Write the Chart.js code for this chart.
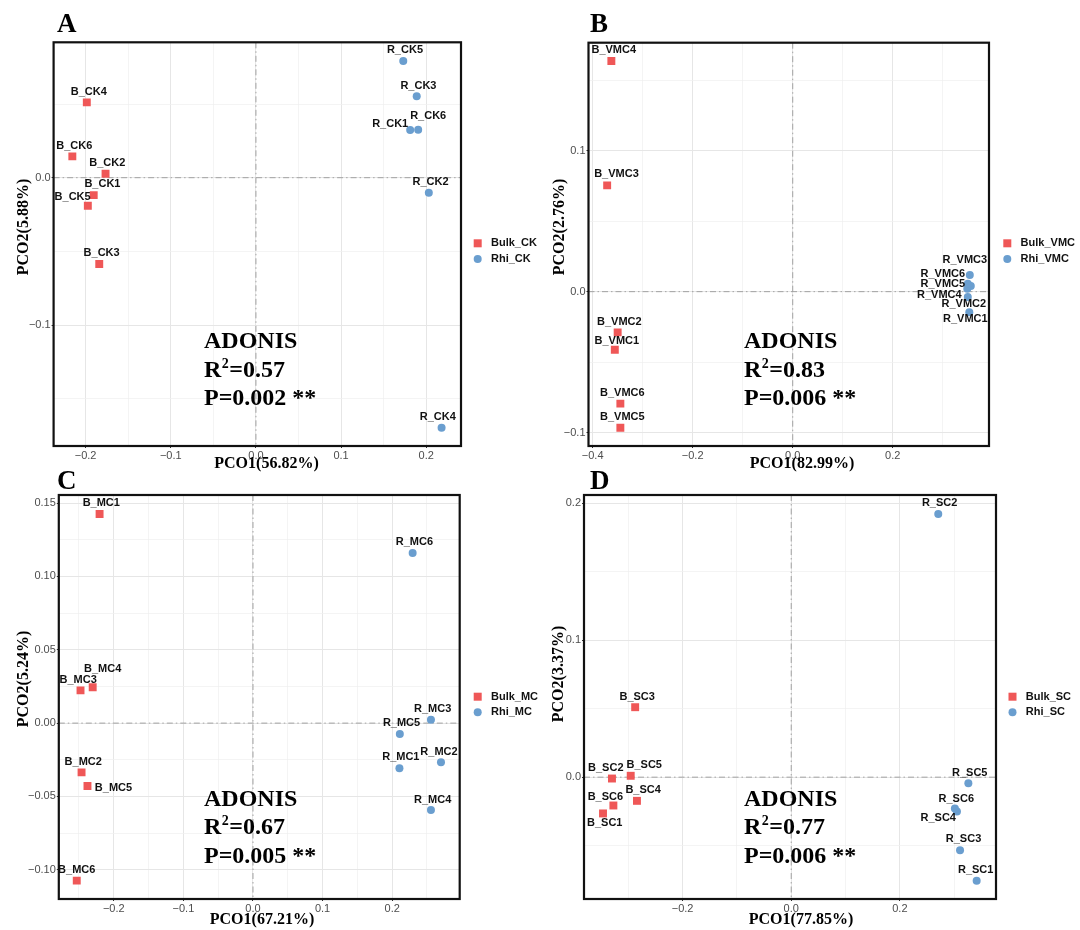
<!DOCTYPE html>
<html>
<head>
<meta charset="utf-8">
<script src="https://cdn.jsdelivr.net/npm/chart.js@4.4.1/dist/chart.umd.min.js"></script>
<style>
  body { margin: 0; background: #fff; width: 1080px; height: 930px; position: relative; overflow: hidden; }
  canvas { position: absolute; }
  #cA { left: 0; top: 0; }
  #cB { left: 540px; top: 0; }
  #cC { left: 0; top: 460px; }
  #cD { left: 540px; top: 460px; }
</style>
</head>
<body>
<canvas id="cA" width="540" height="478" style="width:540px;height:478px"></canvas>
<canvas id="cB" width="540" height="478" style="width:540px;height:478px"></canvas>
<canvas id="cC" width="540" height="470" style="width:540px;height:470px"></canvas>
<canvas id="cD" width="540" height="470" style="width:540px;height:470px"></canvas>
<script>
const RED = '#ef5757';
const BLUE = '#6a9ecf';

// ---- Panel A (CK) ----
const ckBulkNames = ['B_CK1', 'B_CK2', 'B_CK3', 'B_CK4', 'B_CK5', 'B_CK6'];
const ckBulkX = [-0.1905, -0.1766, -0.184, -0.1986, -0.1974, -0.2156];
const ckBulkY = [-0.0118, 0.0027, -0.0586, 0.0511, -0.019, 0.0145];
const ckRhiNames = ['R_CK1', 'R_CK2', 'R_CK3', 'R_CK4', 'R_CK5', 'R_CK6'];
const ckRhiX = [0.1811, 0.203, 0.1888, 0.218, 0.173, 0.1905];
const ckRhiY = [0.0324, -0.0102, 0.0552, -0.1697, 0.0792, 0.0326];
const ckXGrid = [-0.2, -0.15, -0.1, -0.05, 0, 0.05, 0.1, 0.15, 0.2];
const ckXMajor = [-0.2, -0.1, 0, 0.1, 0.2];
const ckXLabels = ['\u22120.2', '\u22120.1', '0.0', '0.1', '0.2'];
const ckYGrid = [0.05, 0, -0.05, -0.1, -0.15];
const ckYMajor = [0, -0.1];
const ckYLabels = ['0.0', '\u22120.1'];

// ---- Panel B (VMC) ----
const vmcBulkNames = ['B_VMC1', 'B_VMC2', 'B_VMC3', 'B_VMC4', 'B_VMC5', 'B_VMC6'];
const vmcBulkX = [-0.3557, -0.35, -0.371, -0.3626, -0.3446, -0.3446];
const vmcBulkY = [-0.0412, -0.0289, 0.0755, 0.1638, -0.0966, -0.0795];
const vmcRhiNames = ['R_VMC1', 'R_VMC2', 'R_VMC3', 'R_VMC4', 'R_VMC5', 'R_VMC6'];
const vmcRhiX = [0.353, 0.35, 0.354, 0.349, 0.356, 0.35];
const vmcRhiY = [-0.0147, -0.0038, 0.0118, 0.002, 0.004, 0.0057];
const vmcXGrid = [-0.4, -0.3, -0.2, -0.1, 0, 0.1, 0.2, 0.3];
const vmcXMajor = [-0.4, -0.2, 0, 0.2];
const vmcXLabels = ['\u22120.4', '\u22120.2', '0.0', '0.2'];
const vmcYGrid = [0.15, 0.1, 0.05, 0, -0.05, -0.1];
const vmcYMajor = [0.1, 0, -0.1];
const vmcYLabels = ['0.1', '0.0', '\u22120.1'];

// ---- Panel C (MC) ----
const mcBulkNames = ['B_MC1', 'B_MC2', 'B_MC3', 'B_MC4', 'B_MC5', 'B_MC6'];
const mcBulkX = [-0.2204, -0.2463, -0.2478, -0.2303, -0.2378, -0.2532];
const mcBulkY = [0.1426, -0.0336, 0.0223, 0.0245, -0.0429, -0.1074];
const mcRhiNames = ['R_MC1', 'R_MC2', 'R_MC3', 'R_MC4', 'R_MC5', 'R_MC6'];
const mcRhiX = [0.2104, 0.2701, 0.2557, 0.2557, 0.211, 0.2294];
const mcRhiY = [-0.0307, -0.0266, 0.0023, -0.0593, -0.0075, 0.116];
const mcXGrid = [-0.25, -0.2, -0.15, -0.1, -0.05, 0, 0.05, 0.1, 0.15, 0.2, 0.25];
const mcXMajor = [-0.2, -0.1, 0, 0.1, 0.2];
const mcXLabels = ['\u22120.2', '\u22120.1', '0.0', '0.1', '0.2'];
const mcYGrid = [0.15, 0.125, 0.1, 0.075, 0.05, 0.025, 0, -0.025, -0.05, -0.075, -0.1];
const mcYMajor = [0.15, 0.1, 0.05, 0, -0.05, -0.1];
const mcYLabels = ['0.15', '0.10', '0.05', '0.00', '\u22120.05', '\u22120.10'];

// ---- Panel D (SC) ----
const scBulkNames = ['B_SC1', 'B_SC2', 'B_SC3', 'B_SC4', 'B_SC5', 'B_SC6'];
const scBulkX = [-0.3465, -0.33, -0.2873, -0.284, -0.2955, -0.3274];
const scBulkY = [-0.0265, -0.001, 0.0511, -0.0173, 0.001, -0.0207];
const scRhiNames = ['R_SC1', 'R_SC2', 'R_SC3', 'R_SC4', 'R_SC5', 'R_SC6'];
const scRhiX = [0.3414, 0.2707, 0.3108, 0.3051, 0.3261, 0.3013];
const scRhiY = [-0.0757, 0.1922, -0.0533, -0.0251, -0.0044, -0.0229];
const scXGrid = [-0.3, -0.2, -0.1, 0, 0.1, 0.2, 0.3];
const scXMajor = [-0.2, 0, 0.2];
const scXLabels = ['\u22120.2', '0.0', '0.2'];
const scYGrid = [0.2, 0.15, 0.1, 0.05, 0, -0.05];
const scYMajor = [0.2, 0.1, 0];
const scYLabels = ['0.2', '0.1', '0.0'];

// label nudges (px) for the sample names, same order as the names
const ckBulkNudge = [[8.7, -11], [1.7, -10.7], [2.4, -10.7], [2, -10.3], [-15.2, -9], [2, -10.7]];
const ckRhiNudge = [[-20, -6], [1.7, -10.7], [1.7, -10.7], [-3.8, -10.7], [1.7, -11], [10, -13.7]];
const vmcBulkNudge = [[2, -8.7], [1.7, -10.7], [9.3, -11], [2.4, -10.7], [2, -10.7], [2, -10.7]];
const vmcRhiNudge = [[-4, 7], [-4, 7], [-5, -15], [-28, 6], [-28, -2], [-25, -10]];
const mcBulkNudge = [[1.7, -10.7], [1.7, -10.7], [-2.4, -10.3], [10, -18.3], [26, 1.7], [0, -10.3]];
const mcRhiNudge = [[1.4, -11], [-2, -10.3], [1.7, -10.7], [1.7, -10.3], [1.7, -10.7], [1.7, -11]];
const scBulkNudge = [[1.7, 9.7], [-6.2, -11], [2, -10.7], [6.2, -10.7], [13.5, -11.3], [-8, -9]];
const scRhiNudge = [[-1, -11], [1.4, -10.7], [3.5, -10.7], [-18.7, 6.7], [1.4, -10.7], [1.4, -10]];

const SANS = '"Liberation Sans", Arial, sans-serif';
const SERIF = '"Liberation Serif", "Times New Roman", serif';

function pick(majors, labels) {
  return v => {
    const i = majors.findIndex(m => Math.abs(m - v) < 1e-9);
    return i < 0 ? '' : labels[i];
  };
}
function isMajor(majors, v) {
  return majors.some(m => Math.abs(m - v) < 1e-9);
}

function makeDecor(p) {
  return {
    id: 'decor',
    beforeDatasetsDraw(chart) {
      const { ctx, chartArea: a, scales } = chart;
      const x0 = scales.x.getPixelForValue(0);
      const y0 = scales.y.getPixelForValue(0);
      ctx.save();
      ctx.strokeStyle = '#9a9a9a';
      ctx.lineWidth = 0.9;
      ctx.setLineDash([6, 3, 1.5, 3]);
      ctx.beginPath();
      ctx.moveTo(x0, a.top); ctx.lineTo(x0, a.bottom);
      ctx.moveTo(a.left, y0); ctx.lineTo(a.right, y0);
      ctx.stroke();
      ctx.restore();
    },
    afterDatasetsDraw(chart) {
      const { ctx, chartArea: a } = chart;
      ctx.save();
      ctx.font = 'bold 11px ' + SANS;
      ctx.fillStyle = '#111';
      ctx.textAlign = 'center';
      ctx.textBaseline = 'middle';
      chart.data.datasets.forEach((ds, di) => {
        chart.getDatasetMeta(di).data.forEach((pt, i) => {
          const n = ds.nudge[i];
          ctx.fillText(ds.names[i], pt.x + n[0], pt.y + n[1]);
        });
      });
      ctx.strokeStyle = '#111';
      ctx.lineWidth = 2.2;
      ctx.strokeRect(a.left, a.top, a.right - a.left, a.bottom - a.top);
      ctx.restore();
    },
    afterDraw(chart) {
      const ctx = chart.ctx;
      ctx.save();
      ctx.fillStyle = '#000';
      // panel letter
      ctx.font = 'bold 27px ' + SERIF;
      ctx.textAlign = 'left';
      ctx.textBaseline = 'alphabetic';
      ctx.fillText(p.letter, p.letterPos[0], p.letterPos[1]);
      // axis titles
      ctx.font = 'bold 16px ' + SERIF;
      ctx.textAlign = 'center';
      ctx.textBaseline = 'middle';
      ctx.fillText(p.xTitle, p.xTitlePos[0], p.xTitlePos[1]);
      ctx.save();
      ctx.translate(p.yTitlePos[0], p.yTitlePos[1]);
      ctx.rotate(-Math.PI / 2);
      ctx.fillText(p.yTitle, 0, 0);
      ctx.restore();
      // ADONIS block
      const [ax, b0, b1, b2] = p.adonisPos;
      ctx.textAlign = 'left';
      ctx.textBaseline = 'alphabetic';
      ctx.font = 'bold 24px ' + SERIF;
      ctx.fillText('ADONIS', ax, b0);
      ctx.fillText('R', ax, b1);
      const wR = ctx.measureText('R').width;
      ctx.font = 'bold 14px ' + SERIF;
      ctx.fillText('2', ax + wR + 0.5, b1 - 9);
      const w2 = ctx.measureText('2').width;
      ctx.font = 'bold 24px ' + SERIF;
      ctx.fillText('=' + p.r2, ax + wR + w2 + 1, b1);
      ctx.fillText('P=' + p.pval + ' **', ax, b2);
      // legend
      const [lx, ly1, ly2] = p.legendPos;
      ctx.fillStyle = RED;
      ctx.fillRect(lx - 4, ly1 - 4, 8, 8);
      ctx.fillStyle = BLUE;
      ctx.beginPath();
      ctx.arc(lx, ly2, 4, 0, Math.PI * 2);
      ctx.fill();
      ctx.fillStyle = '#111';
      ctx.font = 'bold 11px ' + SANS;
      ctx.textBaseline = 'middle';
      ctx.fillText(p.legend[0], lx + 13.3, ly1);
      ctx.fillText(p.legend[1], lx + 13.3, ly2);
      ctx.restore();
    }
  };
}

function axis(min, max, grid, majors, labels, fit) {
  return {
    type: 'linear',
    min: min,
    max: max,
    afterBuildTicks: s => { s.ticks = grid.map(v => ({ value: v })); },
    afterFit: fit,
    border: { display: false },
    grid: {
      color: ctx => isMajor(majors, ctx.tick.value) ? '#e6e6e6' : '#efefef',
      lineWidth: ctx => isMajor(majors, ctx.tick.value) ? 1 : 0.7,
      tickLength: 2,
      tickColor: ctx => isMajor(majors, ctx.tick.value) ? '#333' : 'rgba(0,0,0,0)'
    },
    ticks: {
      autoSkip: false,
      maxRotation: 0,
      padding: 1,
      color: '#4d4d4d',
      font: { family: SANS, size: 11 },
      callback: pick(majors, labels)
    }
  };
}

function panel(id, p) {
  const pts = (xs, ys) => xs.map((x, i) => ({ x: x, y: ys[i] }));
  new Chart(document.getElementById(id), {
    type: 'scatter',
    data: {
      datasets: [
        {
          label: p.legend[0], data: pts(p.bulkX, p.bulkY), names: p.bulkNames, nudge: p.bulkNudge,
          pointStyle: 'rect', pointRadius: 5.6, backgroundColor: RED, borderWidth: 0
        },
        {
          label: p.legend[1], data: pts(p.rhiX, p.rhiY), names: p.rhiNames, nudge: p.rhiNudge,
          pointStyle: 'circle', pointRadius: 4, backgroundColor: BLUE, borderWidth: 0
        }
      ]
    },
    options: {
      responsive: false,
      animation: false,
      events: [],
      layout: { padding: p.pad },
      plugins: { legend: { display: false }, tooltip: { enabled: false } },
      scales: {
        x: axis(p.xRange[0], p.xRange[1], p.xGrid, p.xMajor, p.xLabels, s => { s.height = 20; }),
        y: axis(p.yRange[0], p.yRange[1], p.yGrid, p.yMajor, p.yLabels, s => { s.width = 40; })
      }
    },
    plugins: [makeDecor(p)]
  });
}

panel('cA', {
  bulkNames: ckBulkNames, bulkX: ckBulkX, bulkY: ckBulkY, bulkNudge: ckBulkNudge,
  rhiNames: ckRhiNames, rhiX: ckRhiX, rhiY: ckRhiY, rhiNudge: ckRhiNudge,
  xRange: [-0.2376, 0.2408], yRange: [-0.1821, 0.0919],
  xGrid: ckXGrid, xMajor: ckXMajor, xLabels: ckXLabels,
  yGrid: ckYGrid, yMajor: ckYMajor, yLabels: ckYLabels,
  legend: ['Bulk_CK', 'Rhi_CK'], letter: 'A',
  xTitle: 'PCO1(56.82%)', yTitle: 'PCO2(5.88%)', r2: '0.57', pval: '0.002',
  pad: { left: 13.6, right: 79, top: 42.3, bottom: 12 },
  letterPos: [57, 32], xTitlePos: [266.5, 464], yTitlePos: [24, 227],
  adonisPos: [204, 348, 376.5, 405], legendPos: [477.7, 243.3, 259]
});

panel('cB', {
  bulkNames: vmcBulkNames, bulkX: vmcBulkX, bulkY: vmcBulkY, bulkNudge: vmcBulkNudge,
  rhiNames: vmcRhiNames, rhiX: vmcRhiX, rhiY: vmcRhiY, rhiNudge: vmcRhiNudge,
  xRange: [-0.4083, 0.3924], yRange: [-0.1096, 0.1768],
  xGrid: vmcXGrid, xMajor: vmcXMajor, xLabels: vmcXLabels,
  yGrid: vmcYGrid, yMajor: vmcYMajor, yLabels: vmcYLabels,
  legend: ['Bulk_VMC', 'Rhi_VMC'], letter: 'B',
  xTitle: 'PCO1(82.99%)', yTitle: 'PCO2(2.76%)', r2: '0.83', pval: '0.006',
  pad: { left: 8.5, right: 91, top: 42.7, bottom: 12 },
  letterPos: [50, 32], xTitlePos: [262, 464], yTitlePos: [20, 227],
  adonisPos: [204, 348, 376.5, 405], legendPos: [467.3, 243.3, 259]
});

panel('cC', {
  bulkNames: mcBulkNames, bulkX: mcBulkX, bulkY: mcBulkY, bulkNudge: mcBulkNudge,
  rhiNames: mcRhiNames, rhiX: mcRhiX, rhiY: mcRhiY, rhiNudge: mcRhiNudge,
  xRange: [-0.279, 0.297], yRange: [-0.1199, 0.1555],
  xGrid: mcXGrid, xMajor: mcXMajor, xLabels: mcXLabels,
  yGrid: mcYGrid, yMajor: mcYMajor, yLabels: mcYLabels,
  legend: ['Bulk_MC', 'Rhi_MC'], letter: 'C',
  xTitle: 'PCO1(67.21%)', yTitle: 'PCO2(5.24%)', r2: '0.67', pval: '0.005',
  pad: { left: 18.8, right: 80.3, top: 35, bottom: 11 },
  letterPos: [57, 29], xTitlePos: [262, 460], yTitlePos: [24, 219],
  adonisPos: [204, 346, 374, 402.5], legendPos: [477.7, 236.7, 252.3]
});

panel('cD', {
  bulkNames: scBulkNames, bulkX: scBulkX, bulkY: scBulkY, bulkNudge: scBulkNudge,
  rhiNames: scRhiNames, rhiX: scRhiX, rhiY: scRhiY, rhiNudge: scRhiNudge,
  xRange: [-0.3815, 0.377], yRange: [-0.089, 0.2061],
  xGrid: scXGrid, xMajor: scXMajor, xLabels: scXLabels,
  yGrid: scYGrid, yMajor: scYMajor, yLabels: scYLabels,
  legend: ['Bulk_SC', 'Rhi_SC'], letter: 'D',
  xTitle: 'PCO1(77.85%)', yTitle: 'PCO2(3.37%)', r2: '0.77', pval: '0.006',
  pad: { left: 4, right: 84, top: 35, bottom: 11 },
  letterPos: [50, 29], xTitlePos: [261, 460], yTitlePos: [19, 214],
  adonisPos: [204, 346, 374, 402.5], legendPos: [472.5, 236.7, 252.3]
});
</script>
</body>
</html>
